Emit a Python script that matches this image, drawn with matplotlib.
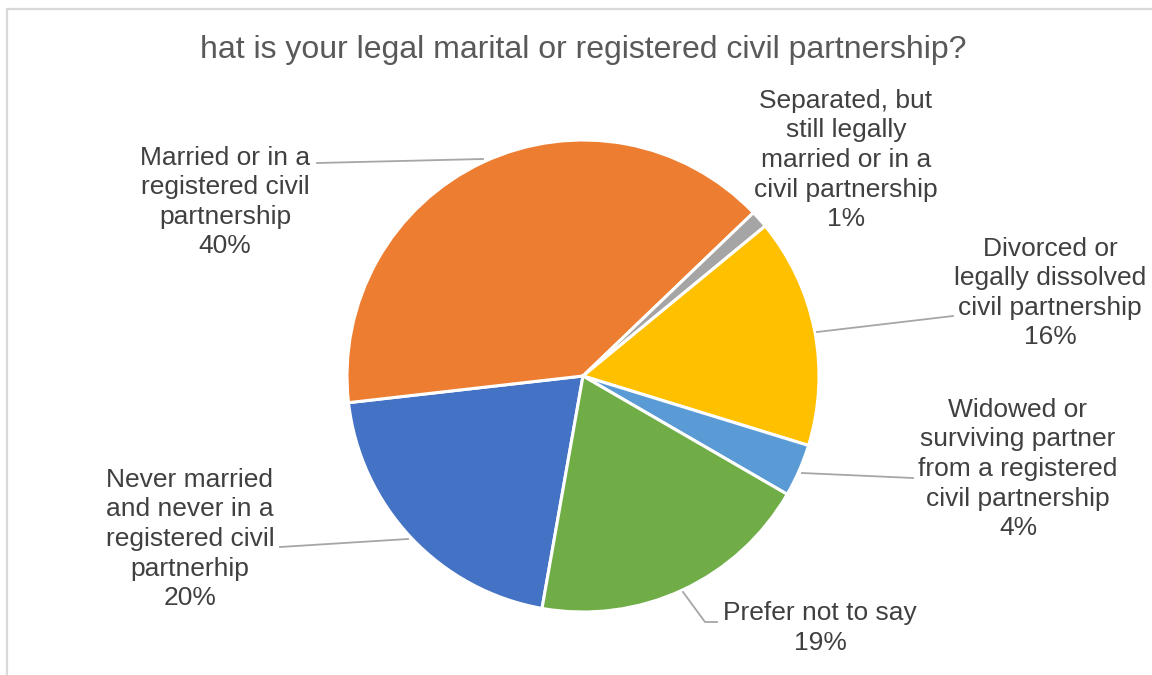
import matplotlib.pyplot as plt
from matplotlib.patches import Rectangle

# data (shares in %)
categories = [
    'Never married\nand never in a\nregistered civil\npartnerhip',
    'Married or in a\nregistered civil\npartnership',
    'Separated, but\nstill legally\nmarried or in a\ncivil partnership',
    'Divorced or\nlegally dissolved\ncivil partnership',
    'Widowed or\nsurviving partner\nfrom a registered\ncivil partnership',
    'Prefer not to say',
]
values = [20.4, 39.6, 1.2, 15.7, 3.6, 19.4]
colors = ['#4472C4', '#ED7D31', '#A5A5A5', '#FFC000', '#5B9BD5', '#70AD47']

title = 'hat is your legal marital or registered civil partnership?'

W, H = 1152, 675

plt.rcParams['font.family'] = ['Liberation Sans', 'DejaVu Sans']

fig = plt.figure(figsize=(W / 100, H / 100), dpi=100)
ax = fig.add_axes([0, 0, 1, 1])

# everything below is laid out in pixel coordinates (y measured from top)
def py(y):
    return H - y

ax.pie(values, colors=colors, startangle=260, counterclock=False,
       center=(583, py(376)), radius=236,
       wedgeprops=dict(edgecolor='white', linewidth=2.2))

ax.set_xlim(0, W)
ax.set_ylim(0, H)
ax.set_aspect('equal')
ax.axis('off')

# chart area border
ax.add_patch(Rectangle((7, py(H + 20)), W + 20, H + 11, fill=False,
                       edgecolor='#D9D9D9', linewidth=1.6))

ax.text(583, py(50), title, ha='center', va='center', fontsize=23, color='#595959')

# label positions and leader lines
label_pos = [(190, 539), (225, 202), (846, 160), (1050, 293), (1018, 469), (820, 628)]
leaders = [
    [(280, 547), (408, 539)],
    [(317, 163), (483, 159)],
    None,
    [(953, 316), (817, 332)],
    [(913, 478), (802, 473)],
    [(717, 622), (705, 622), (683, 592)],
]

total = sum(values)
for cat, v, (lx, ly), lead in zip(categories, values, label_pos, leaders):
    pct = round(v / total * 100)
    ax.text(lx, py(ly), f'{cat}\n{pct}%', ha='center', va='center',
            fontsize=19, color='#404040', linespacing=1.29)
    if lead:
        xs = [p[0] for p in lead]
        ys = [py(p[1]) for p in lead]
        ax.plot(xs, ys, color='#A6A6A6', linewidth=1.3)

fig.savefig('out.png', dpi=100)
